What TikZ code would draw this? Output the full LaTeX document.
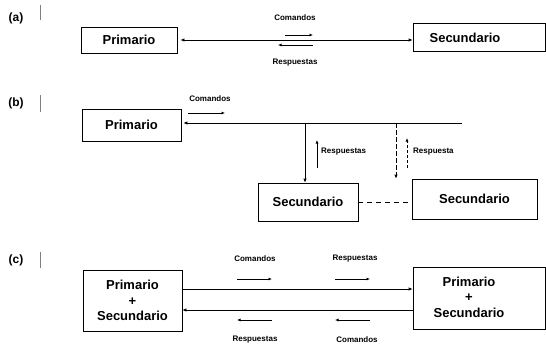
\documentclass[tikz,border=0pt]{standalone}
\usepackage{fontspec}
\setmainfont{Liberation Sans}
\usetikzlibrary{arrows.meta}
\begin{document}
\begin{tikzpicture}[x=1pt,y=-1pt,
  box/.style={draw, line width=0.8pt, inner sep=0pt, align=center,
    font=\bfseries\fontsize{13}{15.5}\selectfont},
  txt/.style={inner sep=0pt, align=center, font=\bfseries\fontsize{13}{15.5}\selectfont},
  tag/.style={inner sep=1pt, font=\bfseries\fontsize{8}{9}\selectfont},
  part/.style={inner sep=0pt, font=\bfseries\fontsize{12}{14}\selectfont},
  link/.style={line width=0.8pt, -{Latex[length=4pt,width=3.5pt]}},
  both/.style={line width=0.8pt, {Latex[length=4pt,width=3.5pt]}-{Latex[length=4pt,width=3.5pt]}},
  flow/.style={line width=0.7pt, -{Latex[length=3.5pt,width=3pt]}},
  margin/.style={gray, line width=0.6pt}]

\useasboundingbox (0,0) rectangle (546,348);
\fill[white] (0,0) rectangle (546,348);

% margin marks beside the part labels
\draw[margin] (40,5) -- (40,20);
\draw[margin] (40,95) -- (40,112);
\draw[margin] (40,252) -- (40,268);

% ---------- (a) point to point ----------
\node[part] (la) at (16,18) {(a)};
\node[box, minimum width=96, minimum height=26] (pa) at (129,40) {Primario};
\node[box, minimum width=132, minimum height=28] (sa) at (479,37) {};
\node[txt] (tsa) at (465,38) {Secundario};
\draw[both] ([xshift=3]pa.east) -- (pa.east -| sa.west);
\coordinate (a1) at (285,35); \coordinate (a2) at (313,35);
\coordinate (a3) at (313,45); \coordinate (a4) at (278,45);
\draw[flow] (a1) -- (a2);
\draw[flow] (a3) -- (a4);
\node[tag] (ca) at (295,18) {Comandos};
\node[tag] (ra) at (295,63) {Respuestas};

% ---------- (b) multipoint ----------
\node[part] (lb) at (16,103) {(b)};
\node[box, minimum width=99, minimum height=32] (pb) at (131.5,125) {Primario};
\node[box, minimum width=100, minimum height=38] (s1) at (308,202) {Secundario};
\node[box, minimum width=125, minimum height=40] (s2) at (474.5,199) {Secundario};
\coordinate (busend) at (462,123);
\coordinate (tap1) at (305,123);
\coordinate (tap2) at (396,123);
\draw[link, shorten >=2pt] (busend) -- (pb.east |- busend);
\draw[link] (tap1) -- (tap1 |- s1.north);
\draw[link, dash pattern=on 5pt off 2pt] (tap2) -- (tap2 |- s2.north);
\draw[line width=0.8pt, dash pattern=on 5pt off 4pt] (s1.east) -- (s1.east -| s2.west);
\node[tag] (cb) at (210,99) {Comandos};
\coordinate (b1) at (188,113); \coordinate (b2) at (225,113);
\draw[flow] (b1) -- (b2);
\coordinate (b3) at (317,168); \coordinate (b4) at (317,140);
\draw[flow] (b3) -- (b4);
\node[tag, anchor=west] (rb1) at (320,152) {Respuestas};
\coordinate (b5) at (407,168); \coordinate (b6) at (407,138);
\draw[flow, dash pattern=on 3pt off 2pt] (b5) -- (b6);
\node[tag, anchor=west] (rb2) at (412,152) {Respuesta};

% ---------- (c) peer to peer ----------
\node[part] (lc) at (16,260) {(c)};
\node[box, minimum width=99, minimum height=61] (pc1) at (132.5,300.5) {Primario\\+\\Secundario};
\node[box, minimum width=132, minimum height=62] (pc2) at (479,298) {};
\node[txt] (tc2) at (469,297) {Primario\\+\\Secundario};
\draw[link] ([yshift=11.5]pc1.east) -- ([yshift=11.5]pc1.east -| pc2.west);
\draw[link] ([yshift=-9.5]pc1.east -| pc2.west) -- ([yshift=-9.5]pc1.east);
\node[tag] (cc1) at (255,259) {Comandos};
\node[tag] (rc1) at (355,259) {Respuestas};
\node[tag] (rc2) at (255,340) {Respuestas};
\node[tag] (cc2) at (357,340) {Comandos};
\coordinate (c1) at (237,279); \coordinate (c2) at (272,279);
\coordinate (c3) at (335,279); \coordinate (c4) at (370,279);
\coordinate (c5) at (272,320); \coordinate (c6) at (237,320);
\coordinate (c7) at (370,320); \coordinate (c8) at (335,320);
\draw[flow] (c1) -- (c2);
\draw[flow] (c3) -- (c4);
\draw[flow] (c5) -- (c6);
\draw[flow] (c7) -- (c8);
\end{tikzpicture}
\end{document}
